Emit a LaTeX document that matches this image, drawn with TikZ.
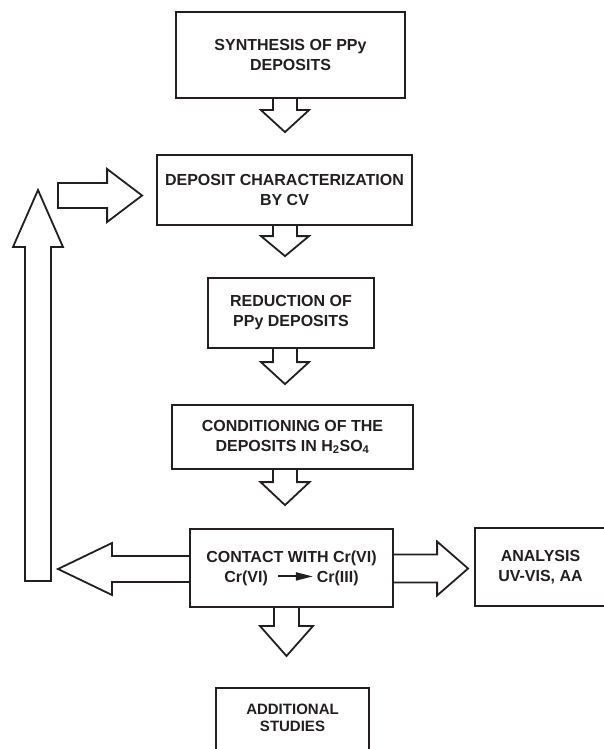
\documentclass[tikz,border=0pt]{standalone}
\usepackage{fontspec}
\setmainfont{Liberation Sans}
\usetikzlibrary{calc,arrows.meta}
\definecolor{ink}{HTML}{231F20}
\tikzset{
  box/.style={draw=ink, line width=1.8pt, inner sep=0pt, align=center, text=ink,
    font=\bfseries\fontsize{16}{20}\selectfont},
  blockline/.style={draw=ink, line width=1.8pt, line join=miter},
}
% #1 start, #2 tip, #3 half shaft, #4 half head, #5 head length, #6 closing
\newcommand\blockarr[6]{%
  \coordinate (ba-h) at ($(#2)!#5!(#1)$);
  \draw[blockline] ($(#1)!#3!90:(#2)$) -- ($(ba-h)!#3!-90:(#1)$) -- ($(ba-h)!#4!-90:(#1)$)
    -- (#2) -- ($(ba-h)!#4!90:(#1)$) -- ($(ba-h)!#3!90:(#1)$) -- ($(#1)!#3!-90:(#2)$) #6;
}
\begin{document}
\begin{tikzpicture}[x=1pt,y=-1pt]
\useasboundingbox (0,0) rectangle (604,749);
\clip (0,0) rectangle (604,749);
\coordinate (axis) at (285,0);

\node[box, minimum width=229pt, minimum height=86pt] (synth) at (290.5,55) {SYNTHESIS OF PPy\\DEPOSITS};
\node[box, minimum width=255pt, minimum height=70pt] (char) at (284.5,190) {DEPOSIT CHARACTERIZATION\\BY CV};
\node[box, minimum width=166pt, minimum height=70pt] (red) at (291,313) {REDUCTION OF\\PPy DEPOSITS};
\node[box, minimum width=241pt, minimum height=64pt] (cond) at (292.5,437) {CONDITIONING OF THE\\DEPOSITS IN H\textsubscript{2}SO\textsubscript{4}};
\node[box, minimum width=203pt, minimum height=78pt] (contact) at (291.5,568) {CONTACT WITH Cr(VI)\\Cr(VI)\hspace{9pt}\tikz[baseline=-5.7pt]\draw[ink,line width=2pt,-{Triangle[length=17pt,width=8pt]}] (0pt,0pt)--(35pt,0pt);\hspace{3pt}Cr(III)};
\node[box, minimum width=131pt, minimum height=78pt] (anal) at (540.5,567) {ANALYSIS\\UV-VIS, AA};
\node[box, anchor=north, minimum width=153pt, inner ysep=16pt, text depth=70pt,
  font=\bfseries\fontsize{15}{17}\selectfont] (add) at (292.5,687) {ADDITIONAL\\STUDIES};

% downward flow
\coordinate (s1) at (synth.south -| axis);
\coordinate (t1) at ($(char.north -| axis)+(0,-22)$);
\blockarr{s1}{t1}{12pt}{24pt}{22pt}{}
\coordinate (s2) at (char.south -| axis);
\coordinate (t2) at ($(red.north -| axis)+(0,-21)$);
\blockarr{s2}{t2}{12pt}{24pt}{20pt}{}
\coordinate (s3) at (red.south -| axis);
\coordinate (t3) at ($(cond.north -| axis)+(0,-20)$);
\blockarr{s3}{t3}{12pt}{24pt}{22pt}{}
\coordinate (s4) at (cond.south -| axis);
\coordinate (t4) at ($(contact.north -| axis)+(0,-23)$);
\blockarr{s4}{t4}{12pt}{24.5pt}{23pt}{}
\coordinate (s5) at ($(contact.south -| axis)+(1.5,0)$);
\coordinate (t5) at ($(add.north -| axis)+(1.5,-31)$);
\blockarr{s5}{t5}{12.5pt}{26.5pt}{30pt}{}

% side arrows
\coordinate (sl) at ($(contact.west)+(0,1)$);
\coordinate (tl) at (58,569);
\blockarr{sl}{tl}{13pt}{26pt}{54pt}{}
\coordinate (sr) at ($(contact.east)+(0,0.5)$);
\coordinate (tr) at ($(anal.west)+(-6,1.5)$);
\blockarr{sr}{tr}{14pt}{27pt}{31pt}{}
\coordinate (su) at (38,581);
\coordinate (tu) at (38,190);
\blockarr{su}{tu}{13pt}{25pt}{57pt}{-- cycle}
\coordinate (sc) at (58,195.5);
\coordinate (tc) at ($(char.west)+(-14,5.5)$);
\blockarr{sc}{tc}{12.5pt}{26.5pt}{35pt}{-- cycle}
\end{tikzpicture}
\end{document}
